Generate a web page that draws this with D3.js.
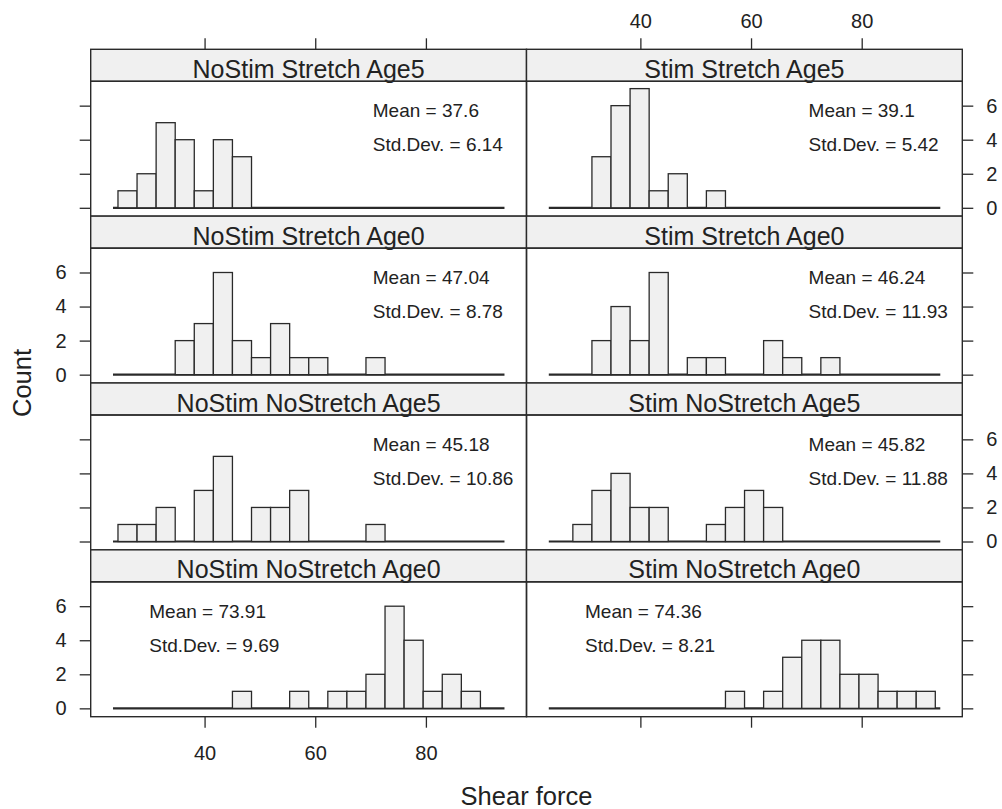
<!DOCTYPE html>
<html>
<head>
<meta charset="utf-8">
<script src="https://cdn.jsdelivr.net/npm/d3@7"></script>
<style>
  body { margin: 0; background: #fff; }
  text { font-family: "Liberation Sans", Arial, Helvetica, sans-serif; fill: #222; }
</style>
</head>
<body>
<div id="chart"></div>
<script>
// panels, in lattice order (top-left to bottom-right)
const PANELS = ["NoStim Stretch Age5", "Stim Stretch Age5",
                "NoStim Stretch Age0", "Stim Stretch Age0",
                "NoStim NoStretch Age5", "Stim NoStretch Age5",
                "NoStim NoStretch Age0", "Stim NoStretch Age0"];

// histogram breaks (shear force)
const BIN_START = 24.35;
const BIN_WIDTH = 3.4475;

// counts per bin, 20 bins each
const COUNTS_NOSTIM_STRETCH_AGE5   = [1,2,5,4,1,4,3,0,0,0,0,0,0,0,0,0,0,0,0,0];
const COUNTS_STIM_STRETCH_AGE5     = [0,0,3,6,7,1,2,0,1,0,0,0,0,0,0,0,0,0,0,0];
const COUNTS_NOSTIM_STRETCH_AGE0   = [0,0,0,2,3,6,2,1,3,1,1,0,0,1,0,0,0,0,0,0];
const COUNTS_STIM_STRETCH_AGE0     = [0,0,2,4,2,6,0,1,1,0,0,2,1,0,1,0,0,0,0,0];
const COUNTS_NOSTIM_NOSTRETCH_AGE5 = [1,1,2,0,3,5,0,2,2,3,0,0,0,1,0,0,0,0,0,0];
const COUNTS_STIM_NOSTRETCH_AGE5   = [0,1,3,4,2,2,0,0,1,2,3,2,0,0,0,0,0,0,0,0];
const COUNTS_NOSTIM_NOSTRETCH_AGE0 = [0,0,0,0,0,0,1,0,0,1,0,1,1,2,6,4,1,2,1,0];
const COUNTS_STIM_NOSTRETCH_AGE0   = [0,0,0,0,0,0,0,0,0,1,0,1,3,4,4,2,2,1,1,1];

const COUNTS = [COUNTS_NOSTIM_STRETCH_AGE5, COUNTS_STIM_STRETCH_AGE5,
                COUNTS_NOSTIM_STRETCH_AGE0, COUNTS_STIM_STRETCH_AGE0,
                COUNTS_NOSTIM_NOSTRETCH_AGE5, COUNTS_STIM_NOSTRETCH_AGE5,
                COUNTS_NOSTIM_NOSTRETCH_AGE0, COUNTS_STIM_NOSTRETCH_AGE0];

const MEANS = ["37.6", "39.1", "47.04", "46.24", "45.18", "45.82", "73.91", "74.36"];
const SDS   = ["6.14", "5.42", "8.78", "11.93", "10.86", "11.88", "9.69", "8.21"];

const X_TICKS = [40, 60, 80];
const Y_TICKS = [0, 2, 4, 6];

const FRAME_WIDTH = 1002;
const FRAME_HEIGHT = 809;
const MARGINS = {left: 90.7, right: 39.7, top: 49.3, bottom: 92.3};
const STRIP_H = 32;
const N_COLS = 2, N_ROWS = 4;

const VIS_WIDTH = FRAME_WIDTH - MARGINS.left - MARGINS.right;
const VIS_HEIGHT = FRAME_HEIGHT - MARGINS.top - MARGINS.bottom;
const COL_W = VIS_WIDTH / N_COLS;
const ROW_H = VIS_HEIGHT / N_ROWS;

const INK = "#2a2a2a";
const FILL = "#f0f0f0";

const FRAME = d3.select("#chart")
  .append("svg")
    .attr("width", FRAME_WIDTH)
    .attr("height", FRAME_HEIGHT);

FRAME.append("rect")
  .attr("width", FRAME_WIDTH)
  .attr("height", FRAME_HEIGHT)
  .attr("fill", "#fff");

function styleAxis(g, size) {
  g.select(".domain").remove();
  g.selectAll(".tick line").attr("stroke", INK).attr("stroke-width", 1.3);
  g.selectAll(".tick text").attr("font-size", size).attr("fill", "#222")
    .style("font-family", "'Liberation Sans', Arial, Helvetica, sans-serif");
}

PANELS.forEach((name, i) => {
  const col = i % N_COLS;
  const row = Math.floor(i / N_COLS);
  const px = MARGINS.left + col * COL_W;
  const py = MARGINS.top + row * ROW_H;
  const bodyTop = py + STRIP_H;
  const bodyBottom = py + ROW_H;

  const X_SCALE = d3.scaleLinear()
    .domain([19.42, 98.18])
    .range([px, px + COL_W]);

  const Y_SCALE = d3.scaleLinear()
    .domain([-0.49, 7.43])
    .range([bodyBottom, bodyTop]);

  const bins = COUNTS[i].map((c, k) => {
    return {x0: BIN_START + k * BIN_WIDTH, x1: BIN_START + (k + 1) * BIN_WIDTH, count: c};
  });

  const g = FRAME.append("g").attr("class", "panel");

  // strip
  g.append("rect")
    .attr("x", px).attr("y", py)
    .attr("width", COL_W).attr("height", STRIP_H)
    .attr("fill", FILL)
    .attr("stroke", INK).attr("stroke-width", 1.4);

  g.append("text")
    .attr("x", px + COL_W / 2)
    .attr("y", py + STRIP_H - 3.5)
    .attr("text-anchor", "middle")
    .attr("font-size", 25)
    .text(name);

  // baseline
  g.append("line")
    .attr("x1", X_SCALE(bins[0].x0 - 0.9))
    .attr("x2", X_SCALE(bins[bins.length - 1].x1 + 0.9))
    .attr("y1", Y_SCALE(0)).attr("y2", Y_SCALE(0))
    .attr("stroke", INK).attr("stroke-width", 2.2);

  // bars
  g.selectAll(".bar")
    .data(bins.filter(d => d.count > 0))
    .enter()
    .append("rect")
      .attr("class", "bar")
      .attr("x", d => X_SCALE(d.x0))
      .attr("y", d => Y_SCALE(d.count))
      .attr("width", d => X_SCALE(d.x1) - X_SCALE(d.x0))
      .attr("height", d => Y_SCALE(0) - Y_SCALE(d.count))
      .attr("fill", FILL)
      .attr("stroke", INK).attr("stroke-width", 1.3);

  // panel box
  g.append("rect")
    .attr("x", px).attr("y", bodyTop)
    .attr("width", COL_W).attr("height", ROW_H - STRIP_H)
    .attr("fill", "none")
    .attr("stroke", INK).attr("stroke-width", 1.4);

  // summary text
  const sx = row === N_ROWS - 1 ? 30 : 70.4;
  g.append("text")
    .attr("x", X_SCALE(sx))
    .attr("y", Y_SCALE(5.72))
    .attr("dy", "0.36em")
    .attr("font-size", 19)
    .text("Mean = " + MEANS[i]);
  g.append("text")
    .attr("x", X_SCALE(sx))
    .attr("y", Y_SCALE(3.72))
    .attr("dy", "0.36em")
    .attr("font-size", 19)
    .text("Std.Dev. = " + SDS[i]);

  // y axes (alternating labels)
  const leftAxis = g.append("g")
    .attr("transform", `translate(${px},0)`);
  if (col === 0) {
    leftAxis.call(d3.axisLeft(Y_SCALE).tickValues(Y_TICKS).tickSize(11).tickPadding(13)
      .tickFormat(row % 2 === 1 ? d3.format("d") : ""));
    styleAxis(leftAxis, 20);
  }
  if (col === N_COLS - 1) {
    const rightAxis = g.append("g")
      .attr("transform", `translate(${px + COL_W},0)`);
    rightAxis.call(d3.axisRight(Y_SCALE).tickValues(Y_TICKS).tickSize(11).tickPadding(13)
      .tickFormat(row % 2 === 0 ? d3.format("d") : ""));
    styleAxis(rightAxis, 20);
  }

  // x axes (alternating labels)
  if (row === 0) {
    const topAxis = g.append("g")
      .attr("transform", `translate(0,${py})`);
    topAxis.call(d3.axisTop(X_SCALE).tickValues(X_TICKS).tickSize(11).tickPadding(10)
      .tickFormat(col === 1 ? d3.format("d") : ""));
    styleAxis(topAxis, 20);
  }
  if (row === N_ROWS - 1) {
    const bottomAxis = g.append("g")
      .attr("transform", `translate(0,${bodyBottom})`);
    bottomAxis.call(d3.axisBottom(X_SCALE).tickValues(X_TICKS).tickSize(11).tickPadding(18)
      .tickFormat(col === 0 ? d3.format("d") : ""));
    styleAxis(bottomAxis, 20);
  }
});

// axis titles
FRAME.append("text")
  .attr("x", MARGINS.left + VIS_WIDTH / 2)
  .attr("y", 805)
  .attr("text-anchor", "middle")
  .attr("font-size", 25.5)
  .text("Shear force");

FRAME.append("text")
  .attr("transform", `translate(31,${MARGINS.top + VIS_HEIGHT / 2}) rotate(-90)`)
  .attr("text-anchor", "middle")
  .attr("font-size", 25.5)
  .text("Count");
</script>
</body>
</html>
